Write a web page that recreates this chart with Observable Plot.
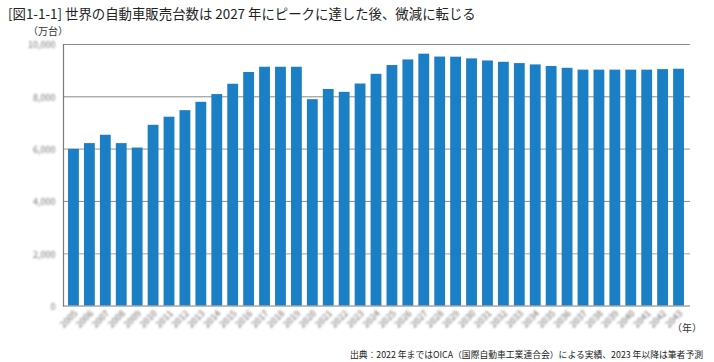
<!DOCTYPE html>
<html><head><meta charset="utf-8">
<script src="https://cdn.jsdelivr.net/npm/d3@7"></script>
<script src="https://cdn.jsdelivr.net/npm/@observablehq/plot@0.6"></script>
<style>
body{margin:0;background:#fff;font-family:"Noto Sans CJK JP","Noto Sans",sans-serif;}
#wrap{position:relative;width:714px;height:362px;overflow:hidden;background:#fff;}
#title{position:absolute;left:8px;top:4px;font-size:13.4px;line-height:18px;color:#222;white-space:nowrap;}
#unit{position:absolute;left:28px;top:25px;font-size:10px;line-height:12px;color:#333;white-space:nowrap;}
#year{position:absolute;left:672px;top:322px;font-size:10px;line-height:12px;color:#333;white-space:nowrap;}
#caption{position:absolute;right:11px;top:349px;font-size:8.8px;line-height:12px;color:#222;white-space:nowrap;}
#chart{position:absolute;left:0;top:24px;}
</style>
</head>
<body>
<div id="wrap">
  <div id="title">[図1-1-1] 世界の自動車販売台数は 2027 年にピークに達した後、微減に転じる</div>
  <div id="chart"></div>
  <div id="unit">（万台）</div>
  <div id="year">（年）</div>
  <div id="caption">出典：2022 年まではOICA（国際自動車工業連合会）による実績、2023 年以降は筆者予測</div>
</div>
<script>
const years = ["2005","2006","2007","2008","2009","2010","2011","2012","2013","2014",
  "2015","2016","2017","2018","2019","2020","2021","2022","2023","2024",
  "2025","2026","2027","2028","2029","2030","2031","2032","2033","2034",
  "2035","2036","2037","2038","2039","2040","2041","2042","2043"];
const sales = [5990,6210,6530,6210,6040,6910,7220,7470,7790,8085,
  8480,8930,9130,9130,9130,7890,8280,8170,8490,8860,
  9195,9410,9630,9520,9515,9450,9370,9320,9270,9220,
  9160,9090,9020,9020,9020,9020,9020,9040,9055];
const yTicks = [0,2000,4000,6000,8000,10000];
const lightGrid = [2000,6000];
const darkGrid = [4000,8000,10000];

const data = years.map((y,i)=>({year:y, value:sales[i]}));

const chart = Plot.plot({
  width:714, height:316,
  marginTop:20, marginBottom:34.5, marginLeft:63, marginRight:24,
  style:{fontFamily:'"Noto Sans CJK JP","Noto Sans",sans-serif', background:"transparent"},
  x:{type:"band", domain:years, range:[65.5,686.5], paddingInner:0.32, paddingOuter:0.16, label:null},
  y:{domain:[0,10000], label:null},
  marks:[
    Plot.ruleY(lightGrid, {stroke:"#c2c2c2", strokeWidth:1.6}),
    Plot.ruleY(darkGrid, {stroke:"#8a8a8a", strokeWidth:1}),
    Plot.barY(data, {x:"year", y:"value", fill:"#1a7fc4"}),
    Plot.ruleY([0], {stroke:"#7a7a7a", strokeWidth:1.2}),
    Plot.frame({anchor:"left", stroke:"#7a7a7a", strokeWidth:1.2}),
    Plot.axisY({ticks:yTicks, tickSize:0, tickPadding:8, tickFormat:d3.format(","), fontSize:9, fill:"#777", dy:1}),
    Plot.axisX({tickRotate:-45, tickSize:0, tickPadding:6, fontSize:9, fill:"#6a6a6a", dx:2})
  ]
});
document.getElementById("chart").appendChild(chart);
const svg = d3.select(chart);
svg.insert("defs", ":first-child").append("filter").attr("id","blurT")
  .attr("x","-20%").attr("y","-50%").attr("width","140%").attr("height","200%")
  .append("feGaussianBlur").attr("stdDeviation", 1.2);
svg.selectAll('g[aria-label="x-axis tick label"], g[aria-label="y-axis tick label"]').attr("filter","url(#blurT)");
</script>
</body></html>
